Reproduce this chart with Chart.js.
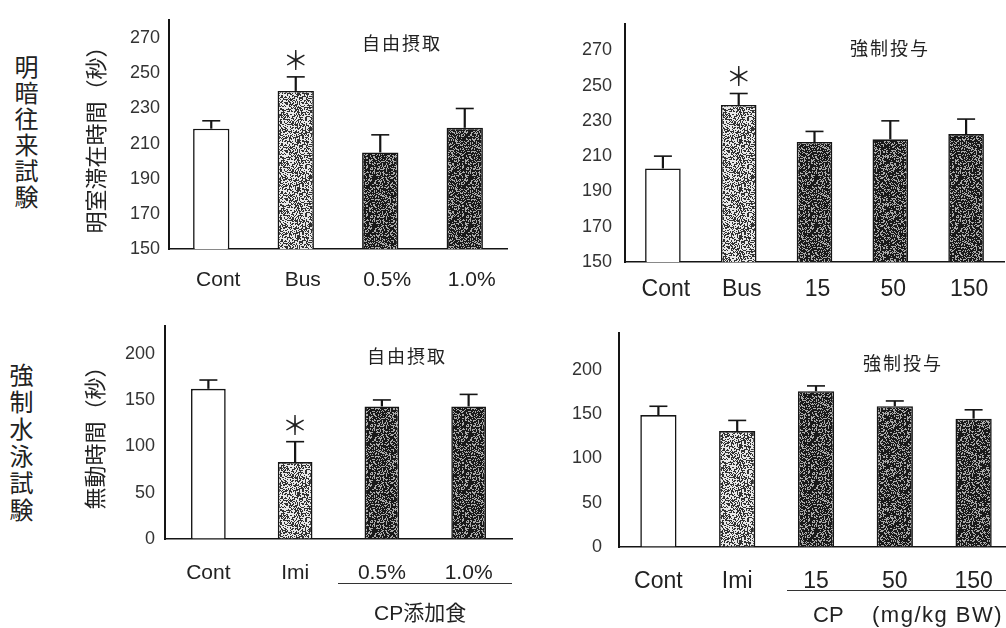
<!DOCTYPE html>
<html><head><meta charset="utf-8">
<script src="https://cdn.jsdelivr.net/npm/chart.js@4"></script>
<style>
html,body{margin:0;padding:0;background:#fff;overflow:hidden;width:1006px;height:628px;position:relative}
canvas{position:absolute}
.t{position:absolute;color:#222;font-family:'Noto Sans CJK JP',sans-serif;white-space:nowrap;line-height:1}
.v{writing-mode:vertical-rl}
.lat{font-family:'Liberation Sans',Arial,sans-serif}
.ul{position:absolute;border-top:1.5px solid #333;height:0}
</style></head><body>
<canvas id="c1" width="450" height="305" style="left:70px;top:0px"></canvas>
<canvas id="c2" width="446" height="305" style="left:560px;top:0px"></canvas>
<canvas id="c3" width="450" height="323" style="left:70px;top:305px"></canvas>
<canvas id="c4" width="460" height="323" style="left:560px;top:305px"></canvas>

<div class="t v" style="left:14px;top:55px;font-size:24px;letter-spacing:2px">明暗往来試験</div>
<div class="t v" style="left:9px;top:363px;font-size:24px;letter-spacing:3px">強制水泳試験</div>

<div class="t" style="left:362px;top:33px;font-size:18px;letter-spacing:2px">自由摂取</div>
<div class="t" style="left:850px;top:38px;font-size:18px;letter-spacing:2px">強制投与</div>
<div class="t" style="left:367px;top:346px;font-size:18px;letter-spacing:2px">自由摂取</div>
<div class="t" style="left:863px;top:353px;font-size:18px;letter-spacing:2px">強制投与</div>

<div class="ul" style="left:338px;top:583px;width:174px"></div>
<div class="t" style="left:374px;top:601px;font-size:21px"><span class="lat">CP</span>添加食</div>
<div class="ul" style="left:787px;top:590px;width:219px"></div>
<div class="t lat" style="left:813px;top:604px;font-size:22px">CP</div>
<div class="t lat" style="left:872px;top:604px;font-size:22px;letter-spacing:1.5px">(mg/kg BW)</div>

<script>
// ---- data ----
// 明暗往来試験 / 自由摂取
const cats1  = ['Cont', 'Bus', '0.5%', '1.0%'];
const mean1  = [218.5, 240, 205, 219];
const sem1   = [4.5, 8, 10, 11];
const sig1   = [false, true, false, false];
const ticks1 = [150, 170, 190, 210, 230, 250, 270];

// 明暗往来試験 / 強制投与
const cats2  = ['Cont', 'Bus', '15', '50', '150'];
const mean2  = [203, 239, 218, 219.5, 222.5];
const sem2   = [7, 6.5, 6, 10.5, 8.5];
const sig2   = [false, true, false, false, false];
const ticks2 = [150, 170, 190, 210, 230, 250, 270];

// 強制水泳試験 / 自由摂取
const cats3  = ['Cont', 'Imi', '0.5%', '1.0%'];
const mean3  = [162, 83, 143, 143];
const sem3   = [9.5, 22, 7, 13];
const sig3   = [false, true, false, false];
const ticks3 = [0, 50, 100, 150, 200];

// 強制水泳試験 / 強制投与
const cats4  = ['Cont', 'Imi', '15', '50', '150'];
const mean4  = [149, 131, 176, 159, 145];
const sem4   = [10, 12, 6, 6, 10];
const sig4   = [false, false, false, false, false];
const ticks4 = [0, 50, 100, 150, 200];

const yTitle1 = '明室滞在時間（秒）';
const yTitle3 = '無動時間（秒）';

// ---- styling ----
const LAT = "'Liberation Sans', Arial, sans-serif";
const CJK = "'Noto Sans CJK JP', sans-serif";

function stipple(base, dot, density, seed) {
  const n = 48;
  const c = document.createElement('canvas'); c.width = c.height = n;
  const g = c.getContext('2d'); const img = g.createImageData(n, n);
  for (let y = 0; y < n; y++) for (let x = 0; x < n; x++) {
    let h = Math.imul(x + seed * 131, 374761393) ^ Math.imul(y + seed * 17, 668265263);
    h = Math.imul(h ^ (h >>> 13), 1274126177); h ^= h >>> 16;
    const r = (h >>> 0) / 4294967296;
    const col = r < density ? dot : base;
    const k = (y * n + x) * 4;
    img.data[k] = col[0]; img.data[k + 1] = col[1]; img.data[k + 2] = col[2]; img.data[k + 3] = 255;
  }
  g.putImageData(img, 0, 0);
  return g.createPattern(c, 'repeat');
}
const grayPat = stipple([232, 232, 232], [50, 50, 50], 0.46, 3);
const darkPat = stipple([170, 170, 170], [25, 25, 25], 0.66, 7);

function fills(n) {
  const a = [];
  for (let i = 0; i < n; i++) a.push(i === 0 ? '#ffffff' : (i === 1 ? grayPat : darkPat));
  return a;
}

const errPlugin = {
  id: 'errbars',
  afterDatasetsDraw(chart) {
    const ctx = chart.ctx, ys = chart.scales.y, ds = chart.data.datasets[0];
    const meta = chart.getDatasetMeta(0);
    ctx.save();
    meta.data.forEach((bar, i) => {
      const x = bar.x;
      const top = ys.getPixelForValue(ds.data[i]);
      const et = ys.getPixelForValue(ds.data[i] + ds.sem[i]);
      ctx.strokeStyle = '#151515';
      ctx.lineWidth = 2.2;
      ctx.beginPath(); ctx.moveTo(x, top); ctx.lineTo(x, et); ctx.stroke();
      ctx.lineWidth = 1.6;
      ctx.beginPath(); ctx.moveTo(x - 9, et); ctx.lineTo(x + 9, et); ctx.stroke();
      if (ds.sig[i]) {
        ctx.fillStyle = '#222';
        ctx.font = "26px " + CJK;
        ctx.textAlign = 'center'; ctx.textBaseline = 'middle';
        ctx.fillText('＊', x, et - 17);
      }
    });
    ctx.restore();
  }
};

function makeChart(id, o) {
  const cv = document.getElementById(id);
  const box = { x: parseFloat(cv.style.left), y: parseFloat(cv.style.top), w: cv.width, h: cv.height };
  const yW = o.area.l - box.x;
  const xH = box.y + box.h - o.area.b;
  return new Chart(cv, {
    type: 'bar',
    data: {
      labels: o.labels,
      datasets: [{
        data: o.mean, sem: o.sem, sig: o.sig,
        backgroundColor: fills(o.labels.length),
        borderColor: '#151515',
        borderWidth: { left: 1.6, right: 1.6, top: 1.6, bottom: 0 },
        borderSkipped: 'bottom',
        barPercentage: o.barPct, categoryPercentage: 1
      }]
    },
    options: {
      responsive: false, animation: false, devicePixelRatio: 1,
      layout: { padding: { left: 0, top: o.area.t - box.y, right: box.x + box.w - o.area.r, bottom: 0 } },
      plugins: { legend: { display: false }, tooltip: { enabled: false } },
      scales: {
        x: {
          grid: { display: true, drawOnChartArea: false, drawTicks: false },
          border: { display: true, color: '#151515', width: 1.6 },
          ticks: { padding: o.labelPad, labelOffset: o.labelOffset || 0, color: '#222', maxRotation: 0, autoSkip: false,
                   font: { family: LAT, size: o.labelSize } },
          afterFit: s => { s.height = xH; }
        },
        y: {
          min: o.min, max: o.max,
          afterBuildTicks: s => { s.ticks = o.ticks.map(v => ({ value: v })); },
          afterFit: s => { s.width = yW; },
          grid: { display: true, drawOnChartArea: false, drawTicks: false },
          border: { display: true, color: '#151515', width: 2 },
          ticks: { padding: o.tickPad, color: '#333', font: { family: LAT, size: 18 } },
          title: { display: !!o.yTitle, text: o.yTitle || '', color: '#222',
                   font: { family: CJK, size: 22 }, padding: { top: o.titlePad || 0, bottom: 0 } }
        }
      }
    },
    plugins: [errPlugin]
  });
}

makeChart('c1', { labels: cats1, mean: mean1, sem: sem1, sig: sig1, ticks: ticks1, min: 150, max: 280.5,
  area: { l: 169, t: 13, r: 507, b: 249 }, barPct: 0.43, tickPad: 9, labelPad: 19, labelOffset: 7, labelSize: 21,
  yTitle: yTitle1, titlePad: 12 });
makeChart('c2', { labels: cats2, mean: mean2, sem: sem2, sig: sig2, ticks: ticks2, min: 150, max: 285,
  area: { l: 625, t: 18, r: 1004, b: 262 }, barPct: 0.47, tickPad: 13, labelPad: 14, labelOffset: 3, labelSize: 23 });
makeChart('c3', { labels: cats3, mean: mean3, sem: sem3, sig: sig3, ticks: ticks3, min: 0, max: 230,
  area: { l: 165, t: 318, r: 512, b: 539 }, barPct: 0.40, tickPad: 10, labelPad: 22, labelSize: 21,
  yTitle: yTitle3, titlePad: 11 });
makeChart('c4', { labels: cats4, mean: mean4, sem: sem4, sig: sig4, ticks: ticks4, min: 0, max: 242,
  area: { l: 619, t: 318, r: 1013, b: 547 }, barPct: 0.46, tickPad: 17, labelPad: 21, labelSize: 23 });
</script>
</body></html>
